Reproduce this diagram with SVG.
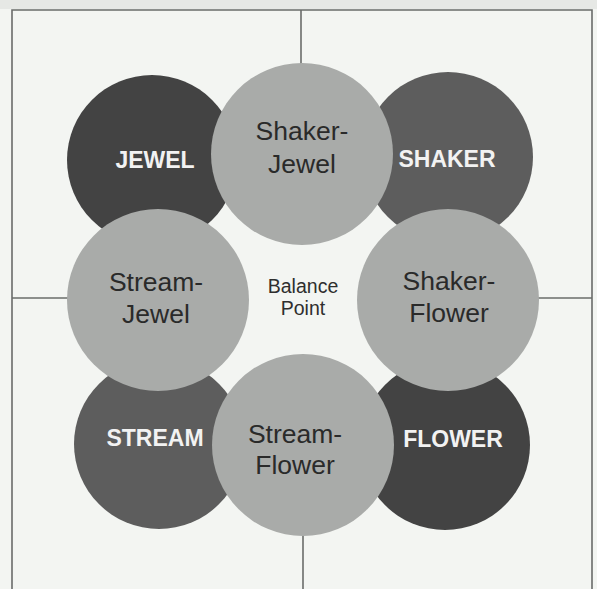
<svg xmlns="http://www.w3.org/2000/svg" width="597" height="589" viewBox="0 0 597 589">
  <style>
    .line { stroke: #6a6c6a; stroke-width: 1.6; fill: none; }
    .dark1 { fill: #434343; }
    .dark2 { fill: #5d5d5d; }
    .light { fill: #a9aba9; }
    .lbl { font-family: "Liberation Sans", Arial, sans-serif; font-size: 26.5px; fill: #2a2a2a; text-anchor: middle; }
    .bold { font-family: "Liberation Sans", Arial, sans-serif; font-size: 23px; font-weight: bold; fill: #f2f2f2; text-anchor: middle; }
    .small { font-family: "Liberation Sans", Arial, sans-serif; font-size: 19.5px; fill: #2e2e2e; text-anchor: middle; }
  </style>
  <rect x="0" y="0" width="597" height="589" fill="#f3f5f2"/>
  <rect x="0" y="0" width="597" height="9" fill="#e6e8e5"/>
  <g id="frame">
    <path class="line" d="M12,589 V10 H592 V589"/>
    <path class="line" d="M301,10 V80"/>
    <path class="line" d="M303,520 V589"/>
    <path class="line" d="M12,298 H80"/>
    <path class="line" d="M525,298 H592"/>
  </g>
  <g id="jewel">
    <circle class="dark1" cx="152" cy="160" r="85"/>
  </g>
  <g id="shaker">
    <circle class="dark2" cx="448" cy="157" r="85"/>
  </g>
  <g id="stream">
    <circle class="dark2" cx="159" cy="444" r="85"/>
  </g>
  <g id="flower">
    <circle class="dark1" cx="445" cy="445" r="85"/>
  </g>
  <g id="shaker-jewel">
    <circle class="light" cx="302" cy="154" r="91"/>
    <text class="lbl" x="302" y="140">Shaker-</text>
    <text class="lbl" x="302" y="173">Jewel</text>
  </g>
  <g id="shaker-flower">
    <circle class="light" cx="448" cy="300" r="91"/>
    <text class="lbl" x="449" y="290">Shaker-</text>
    <text class="lbl" x="449" y="322">Flower</text>
  </g>
  <g id="stream-flower">
    <circle class="light" cx="303" cy="445" r="91"/>
    <text class="lbl" x="295" y="443">Stream-</text>
    <text class="lbl" x="295" y="474">Flower</text>
  </g>
  <g id="stream-jewel">
    <circle class="light" cx="158" cy="300" r="91"/>
    <text class="lbl" x="156" y="291">Stream-</text>
    <text class="lbl" x="156" y="323">Jewel</text>
  </g>
  <g id="labels">
    <text class="bold" x="155" y="168">JEWEL</text>
    <text class="bold" x="447" y="167">SHAKER</text>
    <text class="bold" x="155" y="446">STREAM</text>
    <text class="bold" x="453" y="447">FLOWER</text>
  </g>
  <g id="balance-point">
    <text class="small" x="303" y="293">Balance</text>
    <text class="small" x="303" y="315">Point</text>
  </g>
</svg>
